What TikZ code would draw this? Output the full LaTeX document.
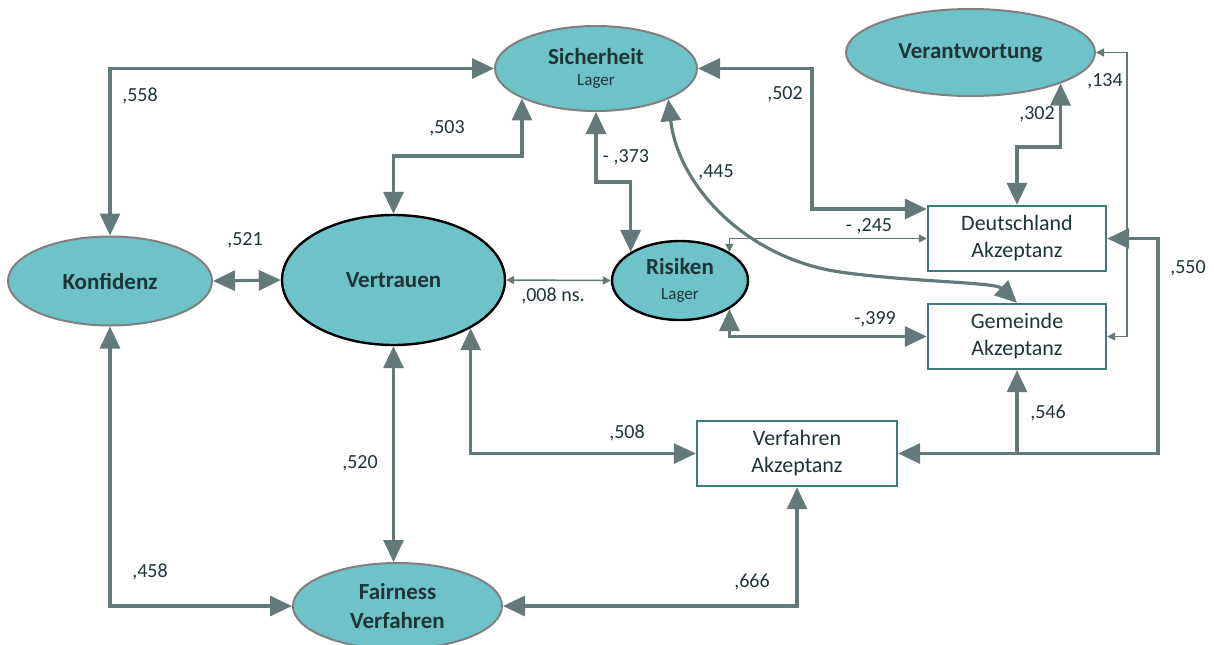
\documentclass[tikz,border=0pt]{standalone}
\usepackage{fontspec}
\setmainfont{Carlito}
\usetikzlibrary{positioning, calc, arrows.meta, shapes.geometric}

\definecolor{tealfill}{RGB}{110,195,200}
\definecolor{pathgray}{RGB}{100,122,122}
\definecolor{boxteal}{RGB}{62,122,124}
\definecolor{inkdark}{RGB}{30,52,56}
\definecolor{rimgray}{RGB}{128,128,128}

\begin{document}
\begin{tikzpicture}
    [x=0.5pt, y=-0.5pt,
    bigtip/.tip={Triangle[length=11pt,width=10pt]},
    smalltip/.tip={Triangle[length=4pt,width=4pt]},
    ovalnode/.style={ellipse, fill=tealfill, draw=rimgray, line width=1pt, inner sep=0pt, text=inkdark, align=center, font=\fontsize{11.5}{14}\selectfont\bfseries},
    darkoval/.style={ovalnode, draw=black, line width=1.2pt},
    boxnode/.style={rectangle, draw=boxteal, line width=1.2pt, fill=white, inner sep=0pt, text=inkdark, align=center, font=\fontsize{11}{13.5}\selectfont},
    thickpath/.style={draw=pathgray, line width=1.6pt, bigtip-bigtip},
    thinpath/.style={draw=pathgray, line width=0.75pt, smalltip-smalltip},
    coef/.style={text=inkdark, inner sep=0pt, font=\fontsize{10}{12}\selectfont},]

    \useasboundingbox (0,0) rectangle (1214,644);

    %Nodes
    \node[ovalnode, minimum width=102pt, minimum height=44.5pt](konf) at (110,281){Konfidenz};
    \node[darkoval, minimum width=111.5pt, minimum height=65pt](vert) at (393.5,280){Vertrauen};
    \node[darkoval, minimum width=68pt, minimum height=39.5pt](ris) at (680,280.5){Risiken\\[-1.5pt]{\fontsize{8.5}{10}\selectfont\mdseries Lager}};
    \node[ovalnode, minimum width=101pt, minimum height=42.5pt](sich) at (596,68.5){Sicherheit\\[-3.5pt]{\fontsize{8.5}{10}\selectfont\mdseries Lager}};
    \node[ovalnode, minimum width=124.5pt, minimum height=43.5pt](vera) at (970.5,52.5){Verantwortung};
    \node[ovalnode, minimum width=104.5pt, minimum height=43pt](fair) at (397.5,606){Fairness\\Verfahren};

    \node[boxnode, minimum width=89pt, minimum height=32.5pt](deua) at (1017,238.5){Deutschland\\Akzeptanz};
    \node[boxnode, minimum width=89pt, minimum height=32.5pt](gema) at (1017,336.5){Gemeinde\\Akzeptanz};
    \node[boxnode, minimum width=100pt, minimum height=32.5pt](verfa) at (797,453.5){Verfahren\\Akzeptanz};

    \coordinate (c502) at (812,209);
    \coordinate (c134) at (1127,200);
    \coordinate (c550) at (1158,453.5);

    %Lines
    \draw[thickpath](konf.north) |- (sich.west);
    \draw[thickpath](konf.south) |- (fair.west);
    \draw[thickpath](konf.east) -- (vert.west);
    \draw[thickpath](vert.north) |- (sich.202 |- 0,156) -- (sich.202);
    \draw[thickpath](vert.south) -- (vert.south |- fair.north);
    \draw[thickpath](vert.328) |- (verfa.west);
    \draw[thinpath](vert.east) -- (ris.west);
    \draw[thickpath](sich.south) |- (ris.150 |- 0,182) -- (ris.150);
    \draw[thickpath](sich.337) .. controls (678,185) and (745,258) .. (840,272) .. controls (910,282) and (995,282) .. (gema.north);
    \draw[thickpath](sich.east) -| (c502) -- (c502 -| deua.west);
    \draw[thickpath](deua.north) |- (vera.341 |- 0,147) -- (vera.341);
    \draw[thinpath](ris.30) |- (deua.west);
    \draw[thickpath](ris.330) |- (gema.west);
    \draw[thinpath](vera.east) -| (c134) |- (gema.east);
    \draw[thickpath](deua.east) -| (c550) -- (verfa.east);
    \draw[thickpath, -bigtip](gema.south |- verfa.east) -- (gema.south);
    \draw[thickpath](fair.east) -| (verfa.south);

    %Labels
    \node[coef](k558) at (140,96){,558};
    \node[coef](k503) at (447,128){,503};
    \node[coef](k521) at (245,240){,521};
    \node[coef](k008) at (553,296){,008 ns.};
    \node[coef](k373) at (626,157){- ,373};
    \node[coef](k445) at (716,172){,445};
    \node[coef](k502) at (785,94){,502};
    \node[coef](k302) at (1037,114){,302};
    \node[coef](k134) at (1105,81){,134};
    \node[coef](k245) at (869,226){- ,245};
    \node[coef](k399) at (875,319){-,399};
    \node[coef](k550) at (1188,268){,550};
    \node[coef](k546) at (1048,413){,546};
    \node[coef](k508) at (627,433){,508};
    \node[coef](k520) at (360,463){,520};
    \node[coef](k458) at (150,572){,458};
    \node[coef](k666) at (752,582){,666};
\end{tikzpicture}
\end{document}
